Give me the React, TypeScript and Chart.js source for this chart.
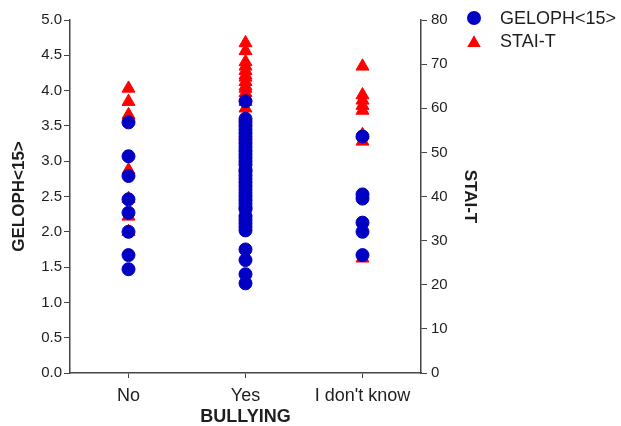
import React, { useEffect, useRef } from "react";
import { Chart, registerables } from "chart.js";

Chart.register(...registerables);

const categories = ["No", "Yes", "I don't know"];

const noGeloph = [3.55, 3.07, 2.79, 2.46, 2.27, 2.0, 1.67, 1.47];
const yesGeloph = [
  3.85, 3.6, 3.55, 3.5, 3.45, 3.4, 3.35, 3.3, 3.25, 3.2, 3.15, 3.1, 3.05, 3.0,
  2.95, 2.88, 2.85, 2.8, 2.75, 2.7, 2.65, 2.6, 2.55, 2.5, 2.45, 2.4, 2.35, 2.32,
  2.22, 2.17, 2.12, 2.07, 2.02, 1.75, 1.6, 1.4, 1.27,
];
const dkGeloph = [3.35, 2.53, 2.47, 2.13, 2.0, 1.67];

const noStai = [64.5, 61.5, 58.5, 46, 39.5, 35.5, 32];
const yesStai = [
  74.8, 73, 70.5, 69.5, 68.5, 67.5, 67, 66, 65, 64.5, 63.5, 62.5, 61.5, 60, 58,
  57, 55, 54, 53, 51, 50, 48, 47, 46.5, 44, 43, 41, 40, 38, 36.5,
];
const dkStai = [69.5, 63, 61.8, 60.6, 59.5, 54, 52.5, 26];

const gelophLabel = "GELOPH<15>";
const staiLabel = "STAI-T";
const blue = "#0000C4";
const red = "#FF0000";
const axisColor = "#444444";
const textColor = "#1e1e1e";
const FONT = "'Liberation Sans', Arial, sans-serif";

function pts(cat: string, vals: number[]) {
  return vals.map((v) => ({ x: cat, y: v }));
}

const legendPlugin = {
  id: "customLegend",
  afterDraw(chart: any) {
    const ctx = chart.ctx;
    ctx.save();
    ctx.font = `18px ${FONT}`;
    ctx.fillStyle = textColor;
    ctx.textBaseline = "middle";
    ctx.textAlign = "left";
    ctx.beginPath();
    ctx.arc(474, 18, 7, 0, Math.PI * 2);
    ctx.fillStyle = blue;
    ctx.fill();
    ctx.fillStyle = textColor;
    ctx.fillText(gelophLabel, 500, 19);
    const r = 7.8;
    const cx = 474;
    const cy = 43;
    ctx.beginPath();
    for (let i = 0; i < 3; i++) {
      const a = (i * 2 * Math.PI) / 3;
      const px = cx + Math.sin(a) * r;
      const py = cy - Math.cos(a) * r;
      if (i === 0) ctx.moveTo(px, py);
      else ctx.lineTo(px, py);
    }
    ctx.closePath();
    ctx.fillStyle = red;
    ctx.fill();
    ctx.fillStyle = textColor;
    ctx.fillText(staiLabel, 500, 42);
    ctx.restore();
  },
};

export default function App() {
  const ref = useRef<HTMLCanvasElement>(null);

  useEffect(() => {
    if (!ref.current) return;
    const chart = new Chart(ref.current, {
      type: "scatter",
      data: {
        labels: categories,
        datasets: [
          {
            label: gelophLabel,
            data: [
              ...pts(categories[0], noGeloph),
              ...pts(categories[1], yesGeloph),
              ...pts(categories[2], dkGeloph),
            ],
            yAxisID: "y",
            pointStyle: "circle",
            pointRadius: 6.5,
            borderWidth: 1,
            backgroundColor: blue,
            borderColor: blue,
          },
          {
            label: staiLabel,
            data: [
              ...pts(categories[0], noStai),
              ...pts(categories[1], yesStai),
              ...pts(categories[2], dkStai),
            ],
            yAxisID: "y2",
            pointStyle: "triangle",
            pointRadius: 7.5,
            borderWidth: 1,
            backgroundColor: red,
            borderColor: red,
          },
        ],
      },
      options: {
        responsive: false,
        animation: false,
        layout: { padding: { top: 20, left: 5, right: 137, bottom: 0 } },
        plugins: {
          legend: { display: false },
          tooltip: { enabled: false },
        },
        scales: {
          x: {
            type: "category",
            labels: categories,
            offset: true,
            grid: {
              display: true,
              drawOnChartArea: false,
              drawTicks: true,
              tickLength: 5,
              offset: false,
              color: axisColor,
            },
            border: { display: true, color: axisColor, width: 1.5 },
            ticks: {
              color: textColor,
              font: { family: FONT, size: 18 },
              padding: 7,
            },
            title: {
              display: true,
              text: "BULLYING",
              color: textColor,
              font: { family: FONT, size: 18, weight: "bold", lineHeight: 1 },
              padding: { top: 0, bottom: 0 },
            },
            afterFit: (s: any) => {
              s.height = 53;
            },
          },
          y: {
            type: "linear",
            position: "left",
            min: 0,
            max: 5,
            grid: {
              display: true,
              drawOnChartArea: false,
              drawTicks: true,
              tickLength: 6,
              color: axisColor,
            },
            border: { display: true, color: axisColor, width: 1.5 },
            ticks: {
              stepSize: 0.5,
              color: textColor,
              font: { family: FONT, size: 15 },
              padding: 2,
              callback: (v: any) => Number(v).toFixed(1),
            },
            title: {
              display: true,
              text: gelophLabel,
              color: textColor,
              font: { family: FONT, size: 17, weight: "bold" },
              padding: { top: 4, bottom: 0 },
            },
            afterFit: (s: any) => {
              s.width = 65;
            },
          },
          y2: {
            type: "linear",
            position: "right",
            min: 0,
            max: 80,
            grid: {
              display: true,
              drawOnChartArea: false,
              drawTicks: true,
              tickLength: 6,
              color: axisColor,
            },
            border: { display: true, color: axisColor, width: 1.5 },
            ticks: {
              stepSize: 10,
              color: textColor,
              font: { family: FONT, size: 15 },
              padding: 4,
            },
            title: {
              display: true,
              text: staiLabel,
              color: textColor,
              font: { family: FONT, size: 17, weight: "bold" },
              padding: { top: 4, bottom: 0 },
            },
            afterFit: (s: any) => {
              s.width = 63;
            },
          },
        },
      },
      plugins: [legendPlugin],
    } as any);
    return () => chart.destroy();
  }, []);

  return (
    <div style={{ position: "absolute", left: 0, top: 0, width: 621, height: 426, background: "#fff" }}>
      <canvas ref={ref} width={621} height={426} />
    </div>
  );
}
